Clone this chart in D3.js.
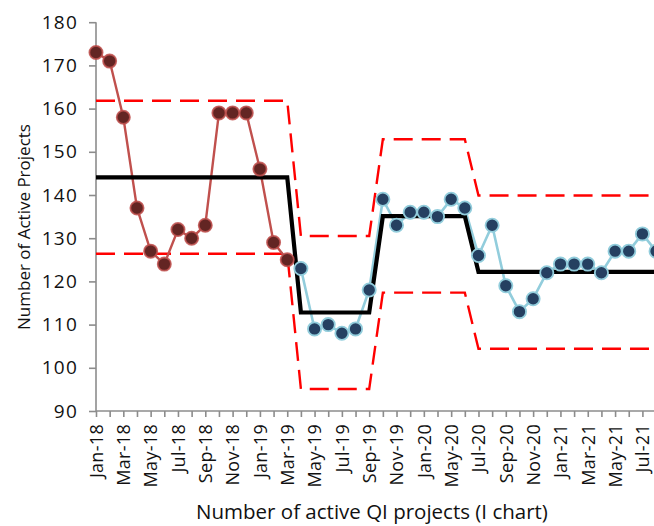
<!DOCTYPE html>
<html><head><meta charset="utf-8">
<script src="https://cdn.jsdelivr.net/npm/d3@7"></script>
<style>body{margin:0;background:#fff}svg{display:block}</style>
</head><body>
<script>
const categories = ["Jan-18","Feb-18","Mar-18","Apr-18","May-18","Jun-18","Jul-18","Aug-18","Sep-18","Oct-18","Nov-18","Dec-18",
"Jan-19","Feb-19","Mar-19","Apr-19","May-19","Jun-19","Jul-19","Aug-19","Sep-19","Oct-19","Nov-19","Dec-19",
"Jan-20","Feb-20","May-20","Jun-20","Jul-20","Aug-20","Sep-20","Oct-20","Nov-20","Dec-20",
"Jan-21","Feb-21","Mar-21","Apr-21","May-21","Jun-21","Jul-21","Aug-21"];
const values = [173,171,158,137,127,124,132,130,133,159,159,159,146,129,125,
123,109,110,108,109,118,139,133,136,136,135,139,137,
126,133,119,113,116,122,124,124,124,122,127,127,131,127];
const phase1Count = 15;
const centerLine = [144.1,144.1,144.1,144.1,144.1,144.1,144.1,144.1,144.1,144.1,144.1,144.1,144.1,144.1,144.1,
112.8,112.8,112.8,112.8,112.8,112.8,135.1,135.1,135.1,135.1,135.1,135.1,135.1,
122.2,122.2,122.2,122.2,122.2,122.2,122.2,122.2,122.2,122.2,122.2,122.2,122.2,122.2];
const ucl = [161.8,161.8,161.8,161.8,161.8,161.8,161.8,161.8,161.8,161.8,161.8,161.8,161.8,161.8,161.8,
130.5,130.5,130.5,130.5,130.5,130.5,152.9,152.9,152.9,152.9,152.9,152.9,152.9,
139.9,139.9,139.9,139.9,139.9,139.9,139.9,139.9,139.9,139.9,139.9,139.9,139.9,139.9];
const lcl = [126.4,126.4,126.4,126.4,126.4,126.4,126.4,126.4,126.4,126.4,126.4,126.4,126.4,126.4,126.4,
95.1,95.1,95.1,95.1,95.1,95.1,117.4,117.4,117.4,117.4,117.4,117.4,117.4,
104.4,104.4,104.4,104.4,104.4,104.4,104.4,104.4,104.4,104.4,104.4,104.4,104.4,104.4];
const yTicks = [90,100,110,120,130,140,150,160,170,180];

const W = 654, H = 526;
const svg = d3.select("body").append("svg").attr("width", W).attr("height", H);
const font = "'Open Sans', sans-serif";

const x = d3.scalePoint().domain(categories).range([96, 96 + 13.66 * (categories.length - 1)]).padding(0);
const y = d3.scaleLinear().domain([90, 180]).range([411, 22.2]);

// axes
const yAxis = svg.append("g").attr("transform", "translate(96,0)")
  .call(d3.axisLeft(y).tickValues(yTicks).tickSize(7).tickPadding(11).tickFormat(d3.format("d")));
const xAxis = svg.append("g").attr("transform", "translate(0,411)")
  .call(d3.axisBottom(x).tickSize(6).tickPadding(6).tickFormat((d, i) => i % 2 === 0 ? d : ""));
[yAxis, xAxis].forEach(g => {
  g.select(".domain").attr("stroke", "#8c8c8c").attr("stroke-width", 1.6);
  g.selectAll(".tick line").attr("stroke", "#8c8c8c").attr("stroke-width", 1.6);
  g.selectAll("text").attr("fill", "#111").attr("font-family", font);
});
yAxis.select(".domain").attr("d", "M0,411V22.2");
xAxis.select(".domain").attr("d", "M96,0H" + W);
yAxis.selectAll("text").attr("font-size", 19).attr("letter-spacing", 1.2);
xAxis.selectAll("text").attr("font-size", 18).attr("letter-spacing", 0.3)
  .attr("transform", "rotate(-90)").attr("text-anchor", "end")
  .attr("x", -13).attr("y", 0).attr("dy", "0.35em");

const idx = d3.range(categories.length);
const line = arr => d3.line().x(i => x(categories[i])).y(i => y(arr[i]));

// control limits
svg.append("path").attr("d", line(ucl)(idx)).attr("fill", "none").attr("stroke", "#ff0000")
  .attr("stroke-width", 2.4).attr("stroke-dasharray", "19,9");
svg.append("path").attr("d", line(lcl)(idx)).attr("fill", "none").attr("stroke", "#ff0000")
  .attr("stroke-width", 2.4).attr("stroke-dasharray", "19,9");

// data lines
const idx1 = idx.slice(0, phase1Count), idx2 = idx.slice(phase1Count);
svg.append("path").attr("d", line(values)(idx1)).attr("fill", "none").attr("stroke", "#c0504d").attr("stroke-width", 2.4);
svg.append("path").attr("d", line(values)(idx2)).attr("fill", "none").attr("stroke", "#92cddc").attr("stroke-width", 2.6);

// center line
svg.append("path").attr("d", line(centerLine)(idx)).attr("fill", "none").attr("stroke", "#000")
  .attr("stroke-width", 4.2).attr("stroke-linejoin", "miter");

// points
svg.append("g").selectAll("circle").data(idx1).join("circle")
  .attr("cx", i => x(categories[i])).attr("cy", i => y(values[i])).attr("r", 6.6)
  .attr("fill", "#632523").attr("stroke", "#c0504d").attr("stroke-opacity", 0.85).attr("stroke-width", 1.8);
svg.append("g").selectAll("circle").data(idx2).join("circle")
  .attr("cx", i => x(categories[i])).attr("cy", i => y(values[i])).attr("r", 6.6)
  .attr("fill", "#254061").attr("stroke", "#92cddc").attr("stroke-width", 1.8);

// titles
svg.append("text").attr("transform", "translate(30,227) rotate(-90)").attr("text-anchor", "middle")
  .attr("font-family", font).attr("font-size", 17).attr("fill", "#111").text("Number of Active Projects");
svg.append("text").attr("x", 372).attr("y", 519).attr("text-anchor", "middle")
  .attr("font-family", font).attr("font-size", 20.5).attr("fill", "#111").text("Number of active QI projects (I chart)");
</script>
</body></html>
